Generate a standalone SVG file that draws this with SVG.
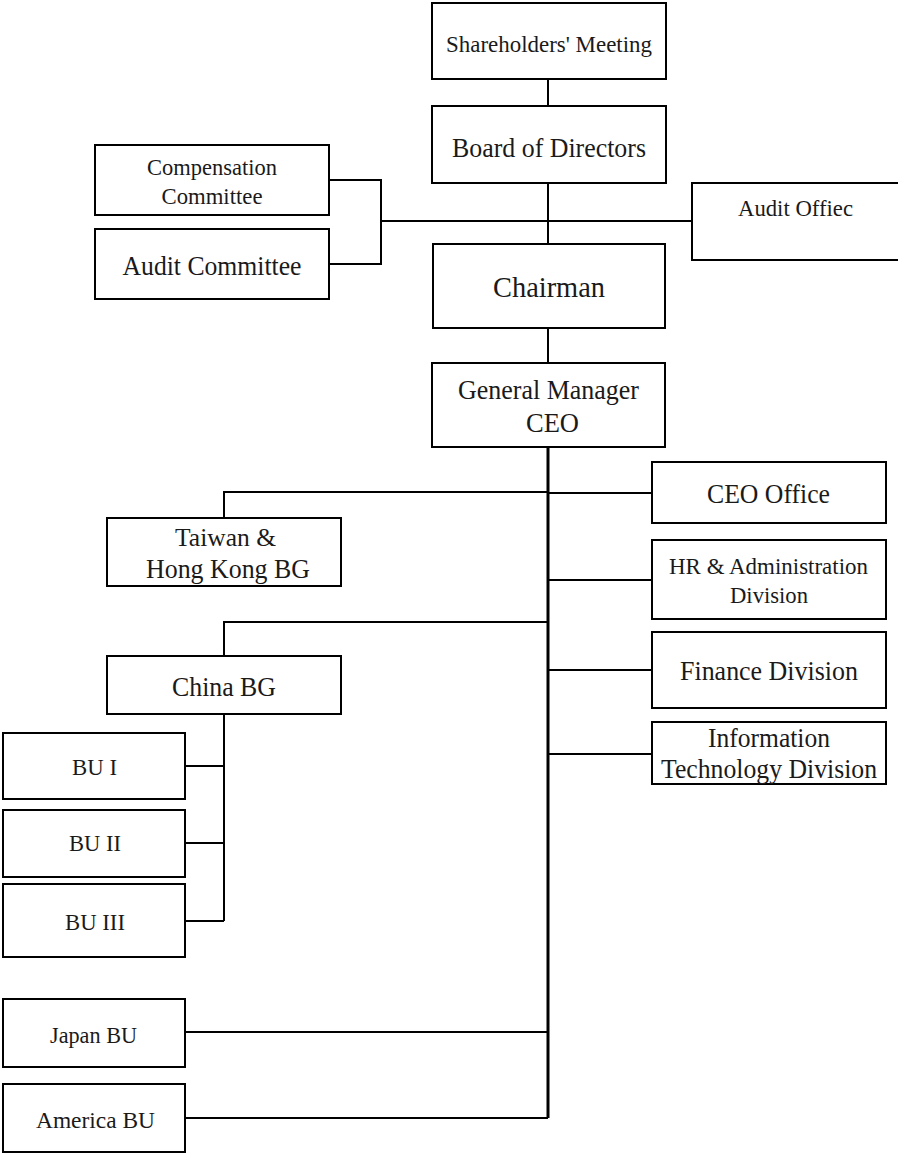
<svg xmlns="http://www.w3.org/2000/svg" width="898" height="1153" viewBox="0 0 898 1153">
<style>
rect{fill:#fff;stroke:#000;stroke-width:2}
text{font-family:"Liberation Serif","Times New Roman",serif;fill:#1a1a1a;text-anchor:middle}
.c{fill:none;stroke:#000;stroke-width:2}
.m{fill:none;stroke:#000;stroke-width:3}
</style>
<rect x="0" y="0" width="898" height="1153" style="stroke:none"/>
<g id="connectors">
<path class="c" d="M548 79V106M548 183V244M381 221H692M329 180H381V264H329M548 328V363"/>
<path class="m" d="M548 447V1118"/>
<path class="c" d="M548 492H224V518M548 493H652M548 580H652M548 670H652M548 754H652M548 622H224V656M224 714V921M185 766H224M185 843H224M185 921H224M185 1032H548M185 1118H548"/>
</g>
<g id="shareholders"><rect x="432" y="3" width="234" height="76"/><text x="549" y="52" font-size="24" textLength="206" lengthAdjust="spacingAndGlyphs">Shareholders' Meeting</text></g>
<g id="board"><rect x="432" y="106" width="234" height="77"/><text x="549" y="157" font-size="28" textLength="194" lengthAdjust="spacingAndGlyphs">Board of Directors</text></g>
<g id="compensation"><rect x="95" y="145" width="234" height="70"/><text x="212" y="175" font-size="23" textLength="130" lengthAdjust="spacingAndGlyphs">Compensation</text><text x="212" y="204" font-size="23" textLength="101" lengthAdjust="spacingAndGlyphs">Committee</text></g>
<g id="audit-committee"><rect x="95" y="229" width="234" height="70"/><text x="212" y="275" font-size="27" textLength="179" lengthAdjust="spacingAndGlyphs">Audit Committee</text></g>
<g id="audit-office"><rect x="692" y="183" width="220" height="77"/><text x="795.5" y="216" font-size="23" textLength="115" lengthAdjust="spacingAndGlyphs">Audit Offiec</text></g>
<g id="chairman"><rect x="433" y="244" width="232" height="84"/><text x="549" y="297" font-size="30" textLength="112" lengthAdjust="spacingAndGlyphs">Chairman</text></g>
<g id="gm"><rect x="432" y="363" width="233" height="84"/><text x="548.5" y="399" font-size="27" textLength="181" lengthAdjust="spacingAndGlyphs">General Manager</text><text x="552.5" y="432" font-size="27" textLength="53" lengthAdjust="spacingAndGlyphs">CEO</text></g>
<g id="taiwan"><rect x="107" y="518" width="234" height="68"/><text x="225.5" y="546" font-size="26" textLength="101" lengthAdjust="spacingAndGlyphs">Taiwan &amp;</text><text x="228" y="578" font-size="27" textLength="164" lengthAdjust="spacingAndGlyphs">Hong Kong BG</text></g>
<g id="ceo-office"><rect x="652" y="462" width="234" height="61"/><text x="768.5" y="503" font-size="27" textLength="123" lengthAdjust="spacingAndGlyphs">CEO Office</text></g>
<g id="hr"><rect x="652" y="540" width="234" height="79"/><text x="768.5" y="574" font-size="23" textLength="199" lengthAdjust="spacingAndGlyphs">HR &amp; Administration</text><text x="769" y="603" font-size="23" textLength="78" lengthAdjust="spacingAndGlyphs">Division</text></g>
<g id="finance"><rect x="652" y="632" width="234" height="76"/><text x="769" y="680" font-size="27" textLength="178" lengthAdjust="spacingAndGlyphs">Finance Division</text></g>
<g id="it"><rect x="652" y="722" width="234" height="62"/><text x="769" y="747" font-size="27" textLength="122" lengthAdjust="spacingAndGlyphs">Information</text><text x="769" y="778" font-size="27" textLength="216" lengthAdjust="spacingAndGlyphs">Technology Division</text></g>
<g id="china"><rect x="107" y="656" width="234" height="58"/><text x="224" y="696" font-size="27" textLength="104" lengthAdjust="spacingAndGlyphs">China BG</text></g>
<g id="bu1"><rect x="3" y="733" width="182" height="66"/><text x="94.5" y="775" font-size="24" textLength="45" lengthAdjust="spacingAndGlyphs">BU I</text></g>
<g id="bu2"><rect x="3" y="810" width="182" height="67"/><text x="95" y="851" font-size="24" textLength="52" lengthAdjust="spacingAndGlyphs">BU II</text></g>
<g id="bu3"><rect x="3" y="884" width="182" height="73"/><text x="95" y="930" font-size="24" textLength="60" lengthAdjust="spacingAndGlyphs">BU III</text></g>
<g id="japan"><rect x="3" y="999" width="182" height="68"/><text x="93.5" y="1043" font-size="23" textLength="87" lengthAdjust="spacingAndGlyphs">Japan BU</text></g>
<g id="america"><rect x="3" y="1084" width="182" height="68"/><text x="95.5" y="1128" font-size="24" textLength="119" lengthAdjust="spacingAndGlyphs">America BU</text></g>
</svg>
